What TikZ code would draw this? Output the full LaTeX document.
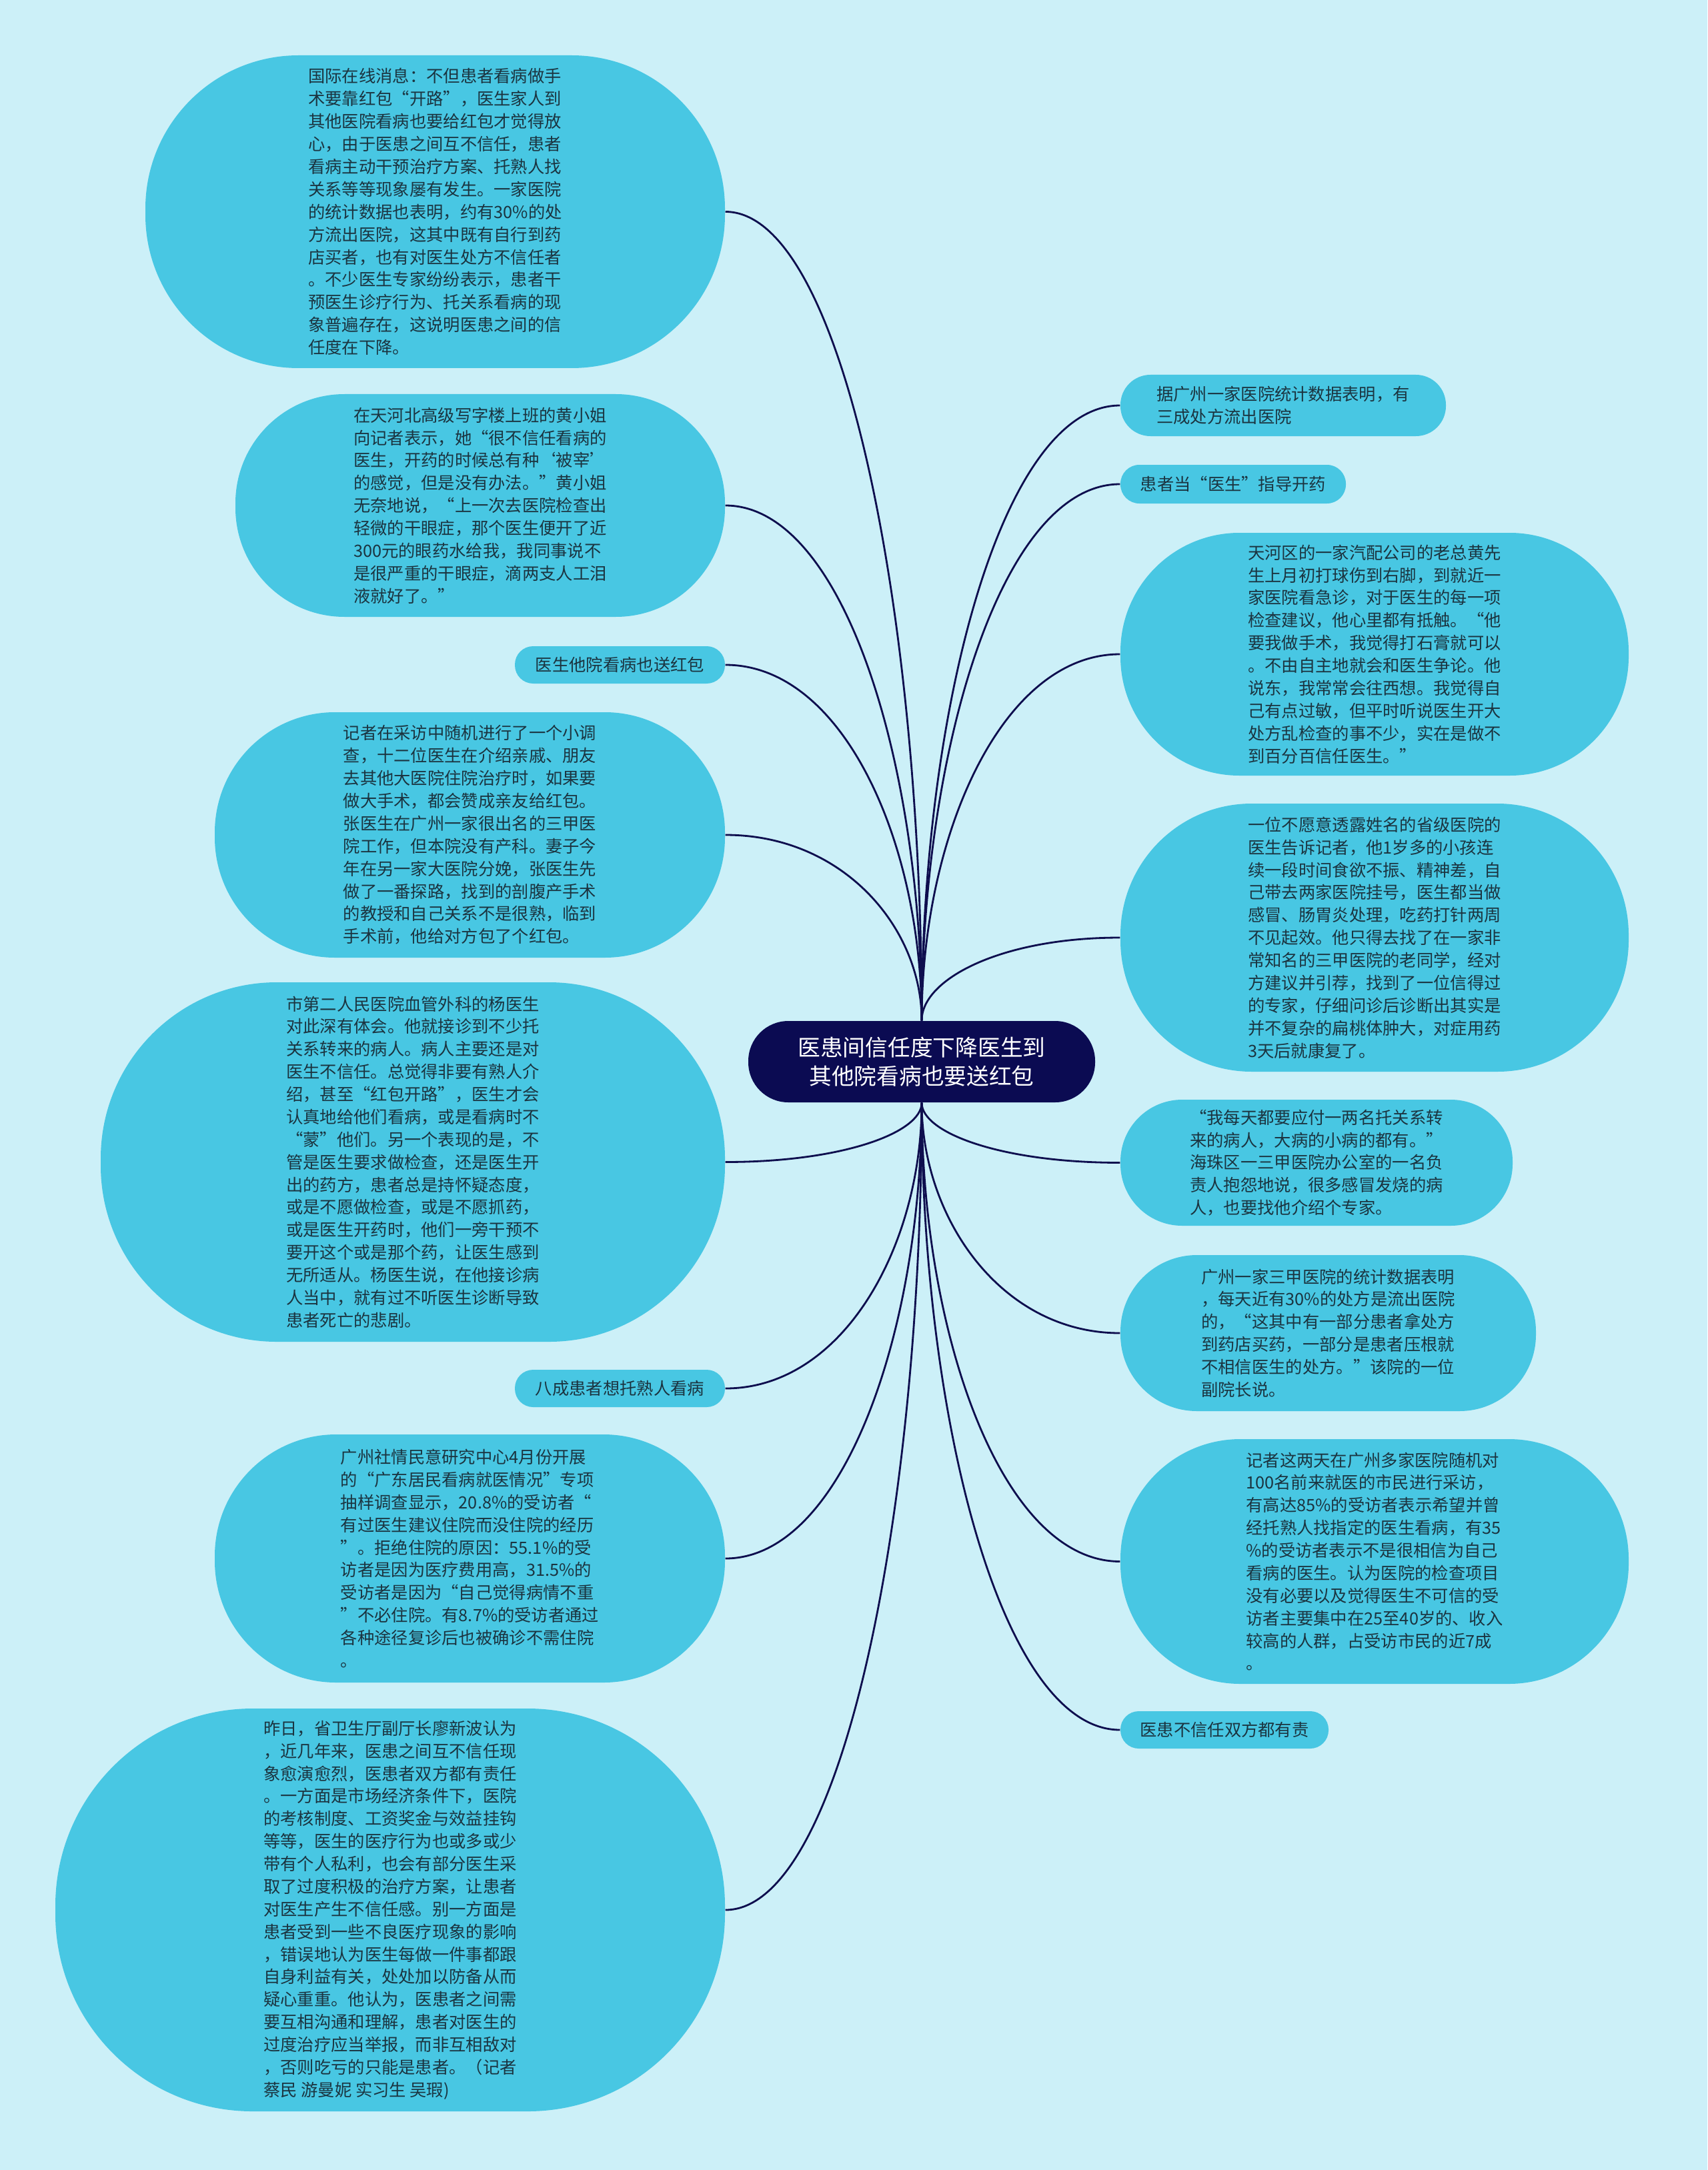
\documentclass[tikz,border=0pt]{standalone}
\usepackage{fontspec}
\usepackage{tikz}
\usetikzlibrary{calc}
\newfontfamily\cjk{Noto Sans CJK SC}
\definecolor{bgcyan}{HTML}{CCF0F8}
\definecolor{bubblecyan}{HTML}{48C7E3}
\definecolor{rootnavy}{HTML}{0B0B52}
\definecolor{linknavy}{HTML}{0E0E4E}
\definecolor{inktext}{HTML}{1B3440}
\tikzset{
	bubble/.style 2 args={fill=bubblecyan,text=inktext,inner sep=0pt,minimum width=#1,minimum height=#2,rounded corners=0.49*#2}
}

\begin{document}
\begin{tikzpicture}[
		every node/.style={font={\cjk\fontsize{7.2pt}{9.64pt}\selectfont},align=left},
		hub/.style={fill=rootnavy,text=white,inner sep=0pt,align=center,minimum width=5.2cm,minimum height=1.22cm,rounded corners=0.6cm,font={\cjk\fontsize{9.6pt}{12.2pt}\selectfont}},
		link/.style={draw=linknavy,line width=0.8pt}
		]
		\useasboundingbox (0,0) rectangle (25.6,-32.54);
		\fill[bgcyan] (0,0) rectangle (25.6,-32.54);
		% centre
		\node[hub] (root) at (13.82,-15.92) {医患间信任度下降医生到\\其他院看病也要送红包};
		% left side
		\node[bubble={8.69cm}{4.69cm}] (l1) at (6.525,-3.175) {国际在线消息：不但患者看病做手\\
			术要靠红包“开路”，医生家人到\\
			其他医院看病也要给红包才觉得放\\
			心，由于医患之间互不信任，患者\\
			看病主动干预治疗方案、托熟人找\\
			关系等等现象屡有发生。一家医院\\
			的统计数据也表明，约有30\%的处\\
			方流出医院，这其中既有自行到药\\
			店买者，也有对医生处方不信任者\\
			。不少医生专家纷纷表示，患者干\\
			预医生诊疗行为、托关系看病的现\\
			象普遍存在，这说明医患之间的信\\
			任度在下降。};
		\node[bubble={7.34cm}{3.34cm}] (l2) at (7.20,-7.58) {在天河北高级写字楼上班的黄小姐\\
			向记者表示，她“很不信任看病的\\
			医生，开药的时候总有种‘被宰’\\
			的感觉，但是没有办法。”黄小姐\\
			无奈地说，“上一次去医院检查出\\
			轻微的干眼症，那个医生便开了近\\
			300元的眼药水给我，我同事说不\\
			是很严重的干眼症，滴两支人工泪\\
			液就好了。”};
		\node[bubble={3.15cm}{0.56cm}] (l3) at (9.295,-9.97) {医生他院看病也送红包};
		\node[bubble={7.65cm}{3.68cm}] (l4) at (7.045,-12.52) {记者在采访中随机进行了一个小调\\
			查，十二位医生在介绍亲戚、朋友\\
			去其他大医院住院治疗时，如果要\\
			做大手术，都会赞成亲友给红包。\\
			张医生在广州一家很出名的三甲医\\
			院工作，但本院没有产科。妻子今\\
			年在另一家大医院分娩，张医生先\\
			做了一番探路，找到的剖腹产手术\\
			的教授和自己关系不是很熟，临到\\
			手术前，他给对方包了个红包。};
		\node[bubble={9.36cm}{5.39cm}] (l5) at (6.19,-17.425) {市第二人民医院血管外科的杨医生\\
			对此深有体会。他就接诊到不少托\\
			关系转来的病人。病人主要还是对\\
			医生不信任。总觉得非要有熟人介\\
			绍，甚至“红包开路”，医生才会\\
			认真地给他们看病，或是看病时不\\
			“蒙”他们。另一个表现的是，不\\
			管是医生要求做检查，还是医生开\\
			出的药方，患者总是持怀疑态度，\\
			或是不愿做检查，或是不愿抓药，\\
			或是医生开药时，他们一旁干预不\\
			要开这个或是那个药，让医生感到\\
			无所适从。杨医生说，在他接诊病\\
			人当中，就有过不听医生诊断导致\\
			患者死亡的悲剧。};
		\node[bubble={3.15cm}{0.56cm}] (l6) at (9.295,-20.82) {八成患者想托熟人看病};
		\node[bubble={7.65cm}{3.72cm}] (l7) at (7.045,-23.37) {广州社情民意研究中心4月份开展\\
			的“广东居民看病就医情况”专项\\
			抽样调查显示，20.8\%的受访者“\\
			有过医生建议住院而没住院的经历\\
			”。拒绝住院的原因：55.1\%的受\\
			访者是因为医疗费用高，31.5\%的\\
			受访者是因为“自己觉得病情不重\\
			”不必住院。有8.7\%的受访者通过\\
			各种途径复诊后也被确诊不需住院\\
			。};
		\node[bubble={10.04cm}{6.04cm}] (l8) at (5.85,-28.64) {昨日，省卫生厅副厅长廖新波认为\\
			，近几年来，医患之间互不信任现\\
			象愈演愈烈，医患者双方都有责任\\
			。一方面是市场经济条件下，医院\\
			的考核制度、工资奖金与效益挂钩\\
			等等，医生的医疗行为也或多或少\\
			带有个人私利，也会有部分医生采\\
			取了过度积极的治疗方案，让患者\\
			对医生产生不信任感。别一方面是\\
			患者受到一些不良医疗现象的影响\\
			，错误地认为医生每做一件事都跟\\
			自身利益有关，处处加以防备从而\\
			疑心重重。他认为，医患者之间需\\
			要互相沟通和理解，患者对医生的\\
			过度治疗应当举报，而非互相敌对\\
			，否则吃亏的只能是患者。（记者\\
			蔡民 游曼妮 实习生 吴瑕)};
		% right side
		\node[bubble={4.88cm}{0.92cm}] (r1) at (19.24,-6.08) {据广州一家医院统计数据表明，有\\
			三成处方流出医院};
		\node[bubble={3.38cm}{0.58cm}] (r2) at (18.49,-7.26) {患者当“医生”指导开药};
		\node[bubble={7.62cm}{3.64cm}] (r3) at (20.61,-9.81) {天河区的一家汽配公司的老总黄先\\
			生上月初打球伤到右脚，到就近一\\
			家医院看急诊，对于医生的每一项\\
			检查建议，他心里都有抵触。“他\\
			要我做手术，我觉得打石膏就可以\\
			。不由自主地就会和医生争论。他\\
			说东，我常常会往西想。我觉得自\\
			己有点过敏，但平时听说医生开大\\
			处方乱检查的事不少，实在是做不\\
			到百分百信任医生。”};
		\node[bubble={7.62cm}{4.02cm}] (r4) at (20.61,-14.06) {一位不愿意透露姓名的省级医院的\\
			医生告诉记者，他1岁多的小孩连\\
			续一段时间食欲不振、精神差，自\\
			己带去两家医院挂号，医生都当做\\
			感冒、肠胃炎处理，吃药打针两周\\
			不见起效。他只得去找了在一家非\\
			常知名的三甲医院的老同学，经对\\
			方建议并引荐，找到了一位信得过\\
			的专家，仔细问诊后诊断出其实是\\
			并不复杂的扁桃体肿大，对症用药\\
			3天后就康复了。};
		\node[bubble={5.88cm}{1.89cm}] (r5) at (19.74,-17.435) {“我每天都要应付一两名托关系转\\
			来的病人，大病的小病的都有。”\\
			海珠区一三甲医院办公室的一名负\\
			责人抱怨地说，很多感冒发烧的病\\
			人，也要找他介绍个专家。};
		\node[bubble={6.23cm}{2.34cm}] (r6) at (19.915,-19.99) {广州一家三甲医院的统计数据表明\\
			，每天近有30\%的处方是流出医院\\
			的，“这其中有一部分患者拿处方\\
			到药店买药，一部分是患者压根就\\
			不相信医生的处方。”该院的一位\\
			副院长说。};
		\node[bubble={7.62cm}{3.67cm}] (r7) at (20.61,-23.415) {记者这两天在广州多家医院随机对\\
			100名前来就医的市民进行采访，\\
			有高达85\%的受访者表示希望并曾\\
			经托熟人找指定的医生看病，有35\\
			\%的受访者表示不是很相信为自己\\
			看病的医生。认为医院的检查项目\\
			没有必要以及觉得医生不可信的受\\
			访者主要集中在25至40岁的、收入\\
			较高的人群，占受访市民的近7成\\
			。};
		\node[bubble={3.12cm}{0.56cm}] (r8) at (18.36,-25.94) {医患不信任双方都有责};
		% links
		\foreach \kid in {l1,l2,l3,l4}
			\draw[link] (root.north) .. controls ($(root.north)!0.5!(root.north |- \kid.east)$) and ($(\kid.east)!0.6!(root.north |- \kid.east)$) .. (\kid.east);
		\foreach \kid in {l5,l6,l7,l8}
			\draw[link] (root.south) .. controls ($(root.south)!0.5!(root.south |- \kid.east)$) and ($(\kid.east)!0.6!(root.south |- \kid.east)$) .. (\kid.east);
		\foreach \kid in {r1,r2,r3,r4}
			\draw[link] (root.north) .. controls ($(root.north)!0.5!(root.north |- \kid.west)$) and ($(\kid.west)!0.6!(root.north |- \kid.west)$) .. (\kid.west);
		\foreach \kid in {r5,r6,r7,r8}
			\draw[link] (root.south) .. controls ($(root.south)!0.5!(root.south |- \kid.west)$) and ($(\kid.west)!0.6!(root.south |- \kid.west)$) .. (\kid.west);
	\end{tikzpicture}
\end{document}
